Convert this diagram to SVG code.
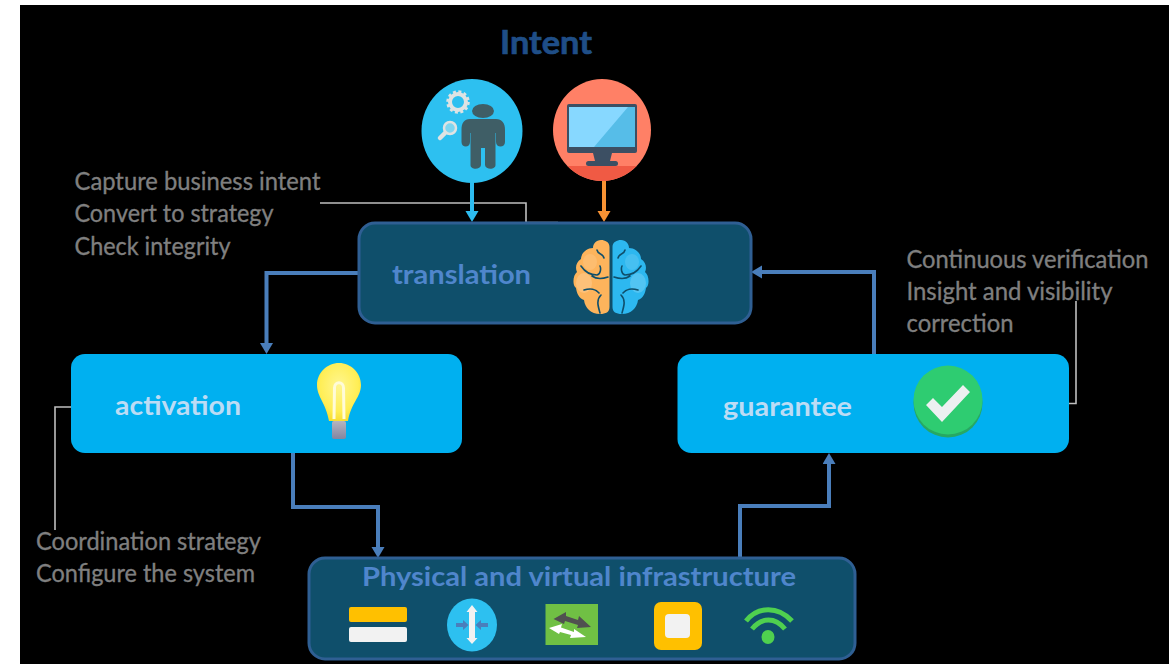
<svg xmlns="http://www.w3.org/2000/svg" width="1174" height="664" viewBox="0 0 1174 664">
<style>
.note{font-family:"Lato","Open Sans","Liberation Sans",sans-serif;font-size:25px;fill:#7f7f7f;stroke:#7f7f7f;stroke-width:.35}
.head{font-family:"Lato","Open Sans","Liberation Sans",sans-serif;font-weight:700}
.dark{fill:#0f4f6b;stroke:#2f5f93;stroke-width:3}
.bright{fill:#00b0f0}
.flow{fill:none;stroke:#4a7ebb;stroke-width:4}
.lead{fill:none;stroke:#bfbfbf;stroke-width:1.6}
.fold{fill:none;stroke:#0f4f6b;stroke-width:1.6;stroke-linecap:round}
</style>
<defs>
<marker id="hb" markerUnits="userSpaceOnUse" markerWidth="14" markerHeight="14" refX="3" refY="6.500" orient="auto"><path d="M0 0L11 6.500L0 13Z" fill="#4a7ebb"/></marker>
<marker id="hc" markerUnits="userSpaceOnUse" markerWidth="14" markerHeight="14" refX="3" refY="6.500" orient="auto"><path d="M0 0L11 6.500L0 13Z" fill="#2dbcf0"/></marker>
<marker id="ho" markerUnits="userSpaceOnUse" markerWidth="14" markerHeight="14" refX="3" refY="6.500" orient="auto"><path d="M0 0L11 6.500L0 13Z" fill="#f79234"/></marker>
<radialGradient id="bulb" cx="0.5" cy="0.4" r="0.62"><stop offset="0" stop-color="#fff690"/><stop offset="0.7" stop-color="#ffee55"/><stop offset="1" stop-color="#f6dc30"/></radialGradient>
<linearGradient id="base" x1="0" y1="0" x2="0" y2="1"><stop offset="0" stop-color="#b5b5c0"/><stop offset="1" stop-color="#8585a0"/></linearGradient>
<clipPath id="monclip"><ellipse cx="602" cy="130" rx="49" ry="51"/></clipPath>
<g id="halfbrain">
<path d="M609.500 247C609.500 242 605 240 601 240C596 240 593 244 593 248C587 248 581 253 581 259C576 262 575 268 577 272C573 275 572 285 576 288C577 294 579 298 584 300C585 308 591 314 600 314C606 314 609.500 312 609.500 307Z"/>
<ellipse cx="584" cy="283" rx="8" ry="10" fill="#ffffff" opacity=".18"/>
<ellipse cx="590" cy="262" rx="7" ry="8" fill="#ffffff" opacity=".12"/>
<path class="fold" d="M597 250C598 255 603 253 604 258M581 266C585 272 590 275 597 275C601 274 601 268 600 266M592 276C596 279 602 279 608 277M584 290C590 288 596 289 599 293M600 313C598 306 596 300 601 295"/>
</g>
</defs>
<rect x="0" y="0" width="1174" height="664" fill="#ffffff"/>
<rect x="20" y="5" width="1149" height="659" fill="#000000"/>

<g id="connectors">
<path class="lead" d="M320 203H526V222.500H558"/>
<path class="lead" d="M71 407H55V530"/>
<path class="lead" d="M1069 403.500H1076V301"/>
<path d="M472 182V214" fill="none" stroke="#2dbcf0" stroke-width="4" marker-end="url(#hc)"/>
<path d="M604 181V214" fill="none" stroke="#f79234" stroke-width="4" marker-end="url(#ho)"/>
<path class="flow" d="M359 273H266.500V346" marker-end="url(#hb)"/>
<path class="flow" d="M293 453V507H378V550" marker-end="url(#hb)"/>
<path class="flow" d="M740 558V506H829V461" marker-end="url(#hb)"/>
<path class="flow" d="M874 354V272H759" marker-end="url(#hb)"/>
</g>

<g id="intent-title"><text class="head" x="500" y="54" font-size="33" fill="#1f4e87" stroke="#1f4e87" stroke-width=".7" textLength="92" lengthAdjust="spacingAndGlyphs">Intent</text></g>

<g id="user-icon">
<ellipse cx="472" cy="131" rx="50.500" ry="52" fill="#2dc0f0"/>
<ellipse cx="483" cy="111" rx="11" ry="7" fill="#3f5e66"/>
<path d="M470 119H496C502 119 505 123 505 130V142C505 148 496 148 496 142V133H495.500V165C495.500 170 485.500 170 485 165V148H481V165C480.500 170 470.500 170 470.500 165V133H470V142C470 148 461.500 148 461.500 142V130C461.500 123 464 119 470 119Z" fill="#3f5e66"/>
<circle cx="458" cy="102" r="8" fill="none" stroke="#dfe3e3" stroke-width="4"/>
<circle cx="458" cy="102" r="10.500" fill="none" stroke="#dfe3e3" stroke-width="2.500" stroke-dasharray="3 2.500"/>
<circle cx="450" cy="128" r="6" fill="#7fd6f0" stroke="#dfe3e3" stroke-width="2.500"/>
<path d="M445 133L440 138" stroke="#dfe3e3" stroke-width="4.500" stroke-linecap="round"/>
</g>

<g id="monitor-icon">
<ellipse cx="602" cy="130" rx="49" ry="51" fill="#ff8066"/>
<rect x="550" y="166" width="104" height="18" fill="#f05a44" clip-path="url(#monclip)"/>
<rect x="567" y="104" width="70" height="49" rx="2" fill="#3c4f63"/>
<rect x="569" y="107" width="66" height="40" fill="#87d8ff"/>
<path d="M635 107V147H594L628 107Z" fill="#56bde8"/>
<path d="M593 153H612L610 161H595Z" fill="#3c4f63"/>
<rect x="586" y="161" width="32" height="5" rx="2.500" fill="#3c4f63"/>
</g>

<g id="translation">
<rect class="dark" x="359" y="223" width="392" height="100" rx="16"/>
<text class="head" x="392" y="284" font-size="27" fill="#4f86cc" textLength="139" lengthAdjust="spacingAndGlyphs">translation</text>
<use href="#halfbrain" fill="#fdb45c"/>
<use href="#halfbrain" fill="#2db8f0" transform="translate(1222 0) scale(-1 1)"/>
</g>

<g id="activation">
<rect class="bright" x="71" y="354" width="391" height="99" rx="14"/>
<text class="head" x="115" y="415" font-size="27" fill="#bcdcf5" textLength="126" lengthAdjust="spacingAndGlyphs">activation</text>
<path d="M339 363C351 363 361 373 361 385C361 397 351 403 348 421H329C326 403 317 397 317 385C317 373 327 363 339 363Z" fill="url(#bulb)"/>
<path d="M334 419L334.500 388C334.500 381 343.500 381 343.500 388L344 419" fill="none" stroke="#fffbd8" stroke-width="3"/>
<rect x="332" y="421" width="14" height="18" rx="2" fill="url(#base)"/>
</g>

<g id="guarantee">
<rect class="bright" x="677.500" y="354" width="391.500" height="99" rx="14"/>
<text class="head" x="723" y="416" font-size="27" fill="#bcdcf5" textLength="129" lengthAdjust="spacingAndGlyphs">guarantee</text>
<circle cx="948" cy="403" r="34.500" fill="#27a863"/>
<circle cx="948" cy="400" r="34.500" fill="#2ecc71"/>
<path d="M926 405L933 398L942 407L963 385L970 392L942 422Z" fill="#ecf0f1"/>
</g>

<g id="infrastructure">
<rect class="dark" x="309" y="558" width="546" height="101" rx="16"/>
<text class="head" x="362" y="586" font-size="27" fill="#4f86cc" textLength="434" lengthAdjust="spacingAndGlyphs">Physical and virtual infrastructure</text>
<rect x="349" y="607" width="58" height="15" rx="2" fill="#ffc000"/>
<rect x="349" y="627" width="58" height="15" rx="2" fill="#f2f2f2"/>
<ellipse cx="472" cy="625" rx="25" ry="26.500" fill="#2dc0f0"/>
<path d="M472 605L477.500 612H475V638H477.500L472 644L466.500 638H469V612H466.500Z" fill="#f2f2f2"/>
<path d="M456 623H463V620L468.500 625L463 630V627H456ZM488 623H481V620L475.500 625L481 630V627H488Z" fill="#4a7ebb"/>
<rect x="545.500" y="604" width="52.500" height="41" fill="#70c044"/>
<path d="M553.500 619L566 612L566 616L578 620L579 616L591 627L577 628L578 625L565 621L564 624Z" fill="#505050"/>
<path d="M549 628L562 624L561 627.500L574 632L574 629L586 637L570 638L571 635L560 632L559 634Z" fill="#ffffff"/>
<rect x="654" y="602" width="48" height="48" rx="7" fill="#ffc000"/>
<rect x="665" y="614" width="25" height="24" rx="4" fill="#f2f2f2"/>
<g fill="none" stroke="#4fd04f" stroke-width="5">
<path d="M746 621C758 606 778 606 792 621"/>
<path d="M752 629C762 617 775 617 785 629"/>
</g>
<ellipse cx="768" cy="637" rx="6.500" ry="7" fill="#4fd04f"/>
</g>

<g id="notes">
<text class="note" x="74.500" y="190" textLength="246" lengthAdjust="spacingAndGlyphs">Capture business intent</text>
<text class="note" x="74.500" y="222" textLength="199" lengthAdjust="spacingAndGlyphs">Convert to strategy</text>
<text class="note" x="74.500" y="255" textLength="156" lengthAdjust="spacingAndGlyphs">Check integrity</text>
<text class="note" x="906.500" y="267.500" textLength="242" lengthAdjust="spacingAndGlyphs">Continuous verification</text>
<text class="note" x="906.500" y="300" textLength="206" lengthAdjust="spacingAndGlyphs">Insight and visibility</text>
<text class="note" x="906.500" y="332" textLength="107" lengthAdjust="spacingAndGlyphs">correction</text>
<text class="note" x="36" y="550" textLength="225" lengthAdjust="spacingAndGlyphs">Coordination strategy</text>
<text class="note" x="36" y="582" textLength="219" lengthAdjust="spacingAndGlyphs">Configure the system</text>
</g>
</svg>
